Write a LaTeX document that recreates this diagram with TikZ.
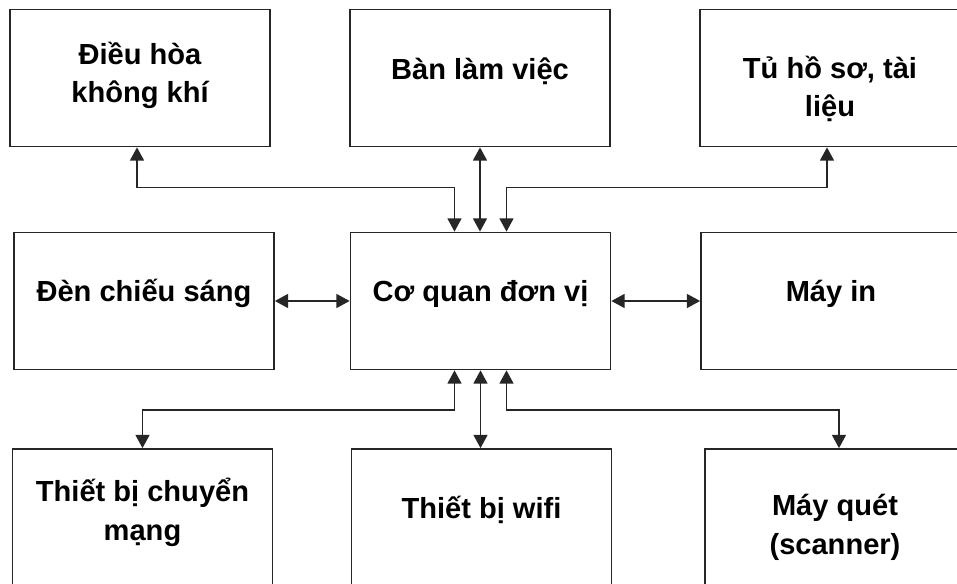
\documentclass[tikz,border=0pt]{standalone}
\usepackage{fontspec}
\setmainfont{Liberation Sans}
\usetikzlibrary{arrows.meta,calc}
\begin{document}
\begin{tikzpicture}[x=0.75pt,y=-0.75pt,
  box/.style={draw=black!85,line width=1.3pt,minimum width=195pt,minimum height=102.75pt,inner sep=0pt},
  lbl/.style={font=\fontsize{21.8}{29}\selectfont\bfseries,align=center,anchor=base,inner sep=0pt},
  link/.style={draw=black!85,line width=1.3pt,{Triangle[width=10.5pt,length=10pt]}-{Triangle[width=10.5pt,length=10pt]}}]
\useasboundingbox (0,0) rectangle (957,584);
\clip (0,0) rectangle (957,584);
\fill[white] (0,0) rectangle (957,584);
% boxes
\node[box] (tl) at (140,78) {};
\node[box] (tc) at (480,78) {};
\node[box] (tr) at (830,78) {};
\node[box] (ml) at (144,301) {};
\node[box] (mc) at (480.5,301) {};
\node[box] (mr) at (831,301) {};
\node[box] (bl) at (142.5,517.5) {};
\node[box] (bc) at (481.5,517.5) {};
\node[box] (br) at (835,517.5) {};
% labels
\node[lbl] (tlt) at ($(tl.center)+(0,25)$) {Điều hòa\\không khí};
\node[lbl] (tct) at ($(tc.center)+(0,2)$) {Bàn làm việc};
\node[lbl] (trt) at ($(tr.center)+(0,39)$) {Tủ hồ sơ, tài\\liệu};
\node[lbl] (mlt) at ($(ml.center)+(0,1)$) {Đèn chiếu sáng};
\node[lbl] (mct) at ($(mc.center)+(0,1)$) {Cơ quan đơn vị};
\node[lbl] (mrt) at ($(mr.center)+(0,1)$) {Máy in};
\node[lbl] (blt) at ($(bl.center)+(0,22.5)$) {Thiết bị chuyển\\mạng};
\node[lbl] (bct) at ($(bc.center)+(0,0.5)$) {Thiết bị wifi};
\node[lbl] (brt) at ($(br.center)+(0,36.5)$) {Máy quét\\(scanner)};
% connectors
\draw[link] ($(tl.south)+(-3,0)$) |- ($(mc.north)+(-26,-44)$) -- ($(mc.north)+(-26,0)$);
\draw[link] (tc.south) -- (tc.south |- mc.north);
\draw[link] ($(mc.north)+(26,0)$) -- ($(mc.north)+(26,-44)$) -| ($(tr.south)+(-3,0)$);
\draw[link] (ml.east) -- (mc.west);
\draw[link] (mc.east) -- (mr.west);
\draw[link] ($(mc.south)+(-26,0)$) -- ($(mc.south)+(-26,40)$) -| (bl.north);
\draw[link] (mc.south) -- (mc.south |- bc.north);
\draw[link] ($(mc.south)+(26,0)$) -- ($(mc.south)+(26,40)$) -| ($(br.north)+(4,0)$);
\end{tikzpicture}
\end{document}
